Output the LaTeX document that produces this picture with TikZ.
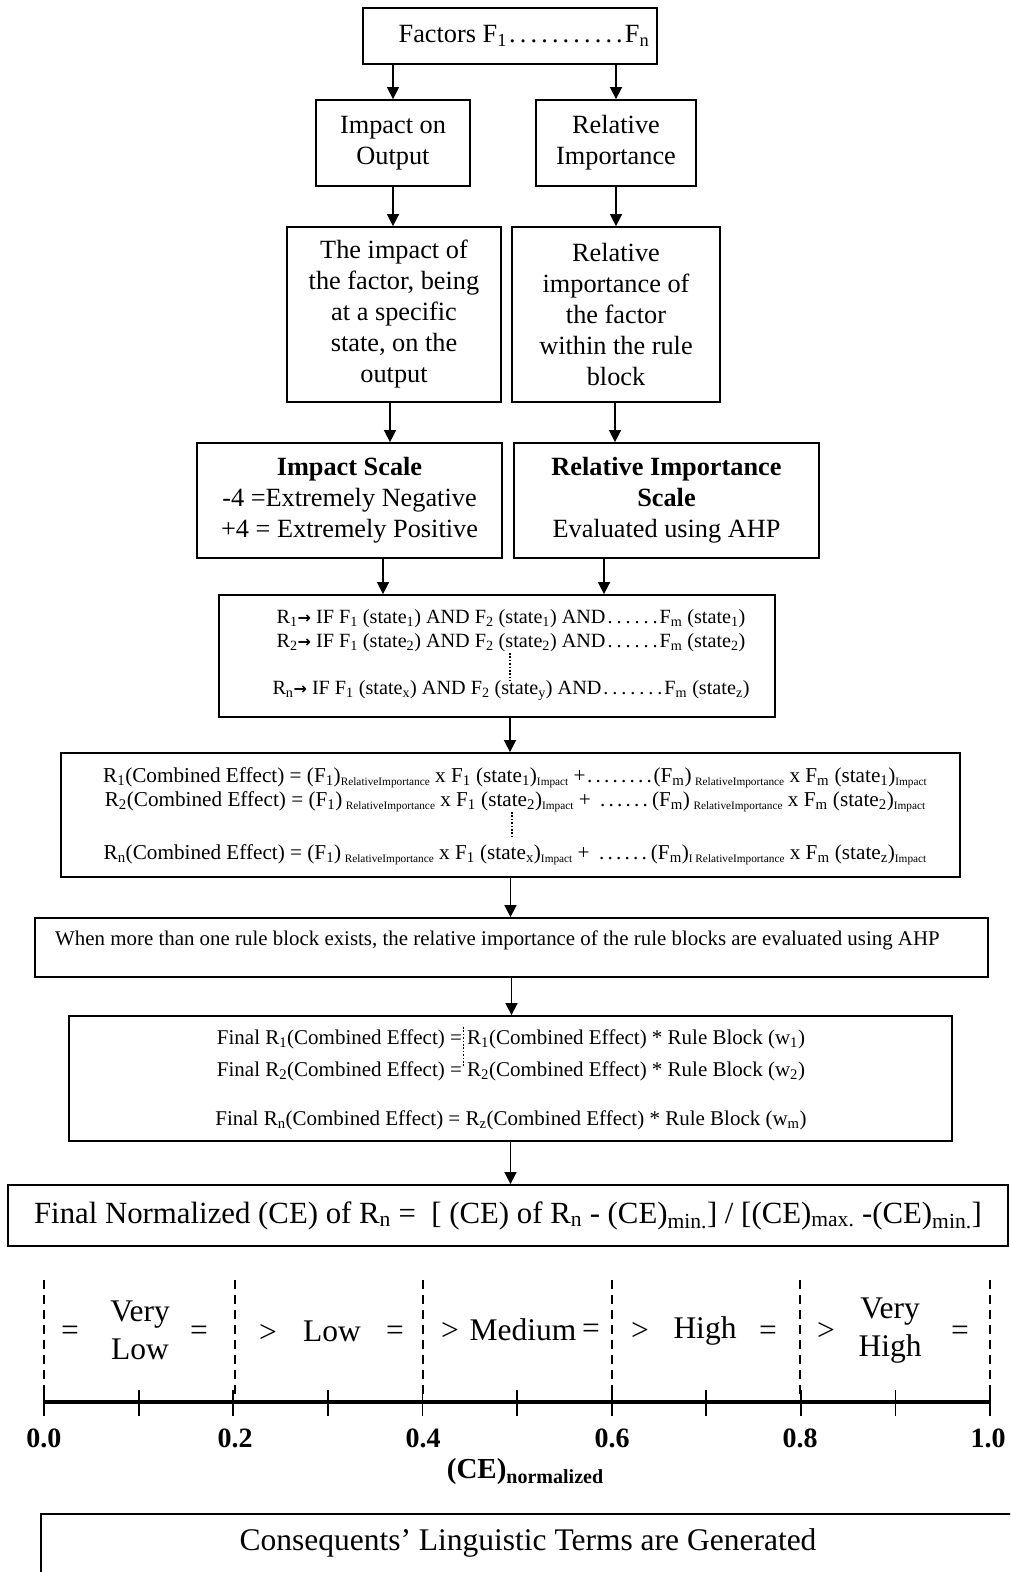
\documentclass[tikz,border=0pt]{standalone}
\usepackage{fontspec}
\setmainfont{Liberation Serif}
\newfontfamily\symf{DejaVu Sans}
\usetikzlibrary{arrows.meta}
% small lowered index used inside the formulas
\newcommand\lo[1]{\textsubscript{#1}}
\newcommand\tlo[1]{\raisebox{-0.35ex}{\fontsize{11.3}{12}\selectfont #1}}
% bold implication arrow
\newcommand\impl{{\symf\bfseries\fontsize{16}{16}\selectfont →}}
% row of widely spaced dots: #1 = pitch, #2 = total width
\newcommand\dts[2]{\cleaders\hbox to #1pt{\hss.\hss}\hskip #2pt\relax}

\begin{document}
\begin{tikzpicture}[x=1pt,y=-1pt,
  box/.style={draw, line width=1.8pt, inner sep=0pt, align=center,
    font=\fontsize{26.3}{31}\selectfont},
  arr/.style={line width=1.6pt, -{Triangle[length=12pt,width=12pt]}},
  gridline/.style={line width=2.2pt, dash pattern=on 9pt off 6pt},
  dotline/.style={line width=1.6pt, dash pattern=on 1.6pt off 1.8pt},
  txt/.style={inner sep=0pt, align=center},
  word/.style={inner sep=0pt, align=center, font=\fontsize{31.5}{38}\selectfont},
  num/.style={inner sep=0pt, font=\fontsize{28}{30}\selectfont\bfseries}]

\clip (0,0) rectangle (1010,1572);

% top of the chart
\node[box, minimum width=294pt, minimum height=56pt] (fac) at (510,36) {};
\node[txt, font=\fontsize{26.3}{31}\selectfont] (factxt) at (524,36)
  {Factors F\lo{1}\dts{10.7}{118}F\lo{n}};
\node[box, minimum width=154pt, minimum height=86pt] (imp) at (393,143)
  {Impact on\\Output};
\node[box, minimum width=160pt, minimum height=86pt] (rel) at (616,143)
  {Relative\\Importance};
\node[box, minimum width=214pt, minimum height=175pt] (impt) at (394,314.5)
  {The impact of\\the factor, being\\at a specific\\state, on the\\output};
\node[box, minimum width=208pt, minimum height=175pt] (relt) at (616,314.5)
  {Relative\\importance of\\the factor\\within the rule\\block};
\node[box, minimum width=305pt, minimum height=115pt] (imps) at (349.5,500.5)
  {\textbf{Impact Scale}\\-4 =Extremely Negative\\+4 = Extremely Positive};
\node[box, minimum width=305pt, minimum height=115pt] (rels) at (666.5,500.5)
  {\textbf{Relative Importance}\\\textbf{Scale}\\Evaluated using AHP};

% rule block
\node[box, minimum width=556pt, minimum height=122pt] (rules) at (497,656) {};
\node[txt, font=\fontsize{20.2}{24}\selectfont] (rulestxt) at (511,655)
  {R\lo{1}\impl\ IF F\lo{1} (state\lo{1}) AND F\lo{2} (state\lo{1}) AND\dts{9}{54}F\lo{m} (state\lo{1})\\
   R\lo{2}\impl\ IF F\lo{1} (state\lo{2}) AND F\lo{2} (state\lo{2}) AND\dts{9}{54}F\lo{m} (state\lo{2})\\[23pt]
   R\lo{n}\impl\ IF F\lo{1} (state\lo{x}) AND F\lo{2} (state\lo{y}) AND\dts{9}{63}F\lo{m} (state\lo{z})};
\draw[dotline] (510,653) -- (510,681);

% combined effect
\node[box, minimum width=899pt, minimum height=124pt] (comb) at (510.5,815) {};
\node[txt, font=\fontsize{21.2}{24}\selectfont] (combtxt) at (515,816)
  {R\lo{1}(Combined Effect) = (F\lo{1})\tlo{RelativeImportance} x F\lo{1} (state\lo{1})\tlo{Impact} +\dts{8.5}{68}(F\lo{m})\,\tlo{RelativeImportance} x F\lo{m} (state\lo{1})\tlo{Impact}\\
   R\lo{2}(Combined Effect) = (F\lo{1})\,\tlo{RelativeImportance} x F\lo{1} (state\lo{2})\tlo{Impact} + \dts{8.5}{56}(F\lo{m})\,\tlo{RelativeImportance} x F\lo{m} (state\lo{2})\tlo{Impact}\\[29pt]
   R\lo{n}(Combined Effect) = (F\lo{1})\,\tlo{RelativeImportance} x F\lo{1} (state\lo{x})\tlo{Impact} + \dts{8.5}{56}(F\lo{m})\tlo{I RelativeImportance} x F\lo{m} (state\lo{z})\tlo{Impact}};
\draw[dotline] (512,812) -- (512,838);

% rule blocks
\node[box, minimum width=953pt, minimum height=59pt] (when) at (511.5,947.5) {};
\node[txt, anchor=west, font=\fontsize{20.9}{24}\selectfont] (whentxt) at (55,940)
  {When more than one rule block exists, the relative importance of the rule blocks are evaluated using AHP};

% final combined effect
\node[box, minimum width=883pt, minimum height=125pt] (fin) at (510.5,1078.5) {};
\node[txt, font=\fontsize{21}{32}\selectfont] (fintxt) at (511,1080)
  {Final R\lo{1}(Combined Effect) = R\lo{1}(Combined Effect) * Rule Block (w\lo{1})\\
   Final R\lo{2}(Combined Effect) = R\lo{2}(Combined Effect) * Rule Block (w\lo{2})\\[17pt]
   Final R\lo{n}(Combined Effect) = R\lo{z}(Combined Effect) * Rule Block (w\lo{m})};
\draw[dotline] (463.5,1027) -- (463.5,1067);

% normalisation
\node[box, minimum width=1000pt, minimum height=61pt, font=\fontsize{30.8}{34}\selectfont] (norm) at (508,1215.5)
  {Final Normalized (CE) of R\lo{n} =\ \ [ (CE) of R\lo{n} - (CE)\lo{min.}] / [(CE)\lo{max.} -(CE)\lo{min.}]};

% connectors
\draw[arr] (fac.south -| imp.north) -- (imp.north);
\draw[arr] (fac.south -| rel.north) -- (rel.north);
\draw[arr] (imp.south) -- (imp.south |- impt.north);
\draw[arr] (rel.south) -- (rel.south |- relt.north);
\draw[arr] ([xshift=-4pt]impt.south) -- ([xshift=-4pt]impt.south |- imps.north);
\draw[arr] ([xshift=-1pt]relt.south) -- ([xshift=-1pt]relt.south |- rels.north);
\draw[arr] ([xshift=33.5pt]imps.south) -- ([xshift=33.5pt]imps.south |- rules.north);
\draw[arr] ([xshift=-62.5pt]rels.south) -- ([xshift=-62.5pt]rels.south |- rules.north);
\draw[arr] ([xshift=13pt]rules.south) -- ([xshift=13pt]rules.south |- comb.north);
\draw[arr] (comb.south) -- (comb.south |- when.north);
\draw[arr] (when.south) -- (when.south |- fin.north);
\draw[arr] (fin.south) -- (fin.south |- norm.north);

% linguistic scale
\foreach \x in {44,235,423,612,800,990}
  \draw[gridline] (\x,1280) -- (\x,1398);
\draw[line width=4pt] (44,1402) -- (990,1402);
\foreach \i in {0,...,10}
  \draw[line width=1.8pt] ({44+94.6*\i},1390) -- ({44+94.6*\i},1416);

\node[num] (n0) at (44,1438) {0.0};
\node[num] (n2) at (235,1438) {0.2};
\node[num] (n4) at (423,1438) {0.4};
\node[num] (n6) at (612,1438) {0.6};
\node[num] (n8) at (800,1438) {0.8};
\node[num] (n10) at (988,1438) {1.0};
\node[txt, font=\fontsize{29}{30}\selectfont\bfseries] (axlab) at (525,1472)
  {(CE)\raisebox{-0.35ex}{\fontsize{20}{21}\selectfont normalized}};

\node[word] (e1) at (70,1333) {=};
\node[word] (vl) at (140,1330) {Very\\Low};
\node[word] (e2) at (199,1333) {=};
\node[word] (g1) at (268,1333) {>};
\node[word] (lo) at (332,1331) {Low};
\node[word] (e3) at (395,1333) {=};
\node[word] (g2) at (450,1331) {>};
\node[word] (me) at (523,1330) {Medium};
\node[word] (e4) at (591,1331) {=};
\node[word] (g3) at (640,1331) {>};
\node[word] (hi) at (705,1331) {High};
\node[word] (e5) at (768,1333) {=};
\node[word] (g4) at (826,1331) {>};
\node[word] (vh) at (890,1331) {Very\\High};
\node[word] (e6) at (960,1333) {=};

% result box, running off the lower edge
\node[box, anchor=north west, minimum width=1000pt, minimum height=90pt] (cons) at (40,1513) {};
\node[txt, font=\fontsize{31.5}{34}\selectfont] (constxt) at (528,1543)
  {Consequents’ Linguistic Terms are Generated};

\end{tikzpicture}
\end{document}
